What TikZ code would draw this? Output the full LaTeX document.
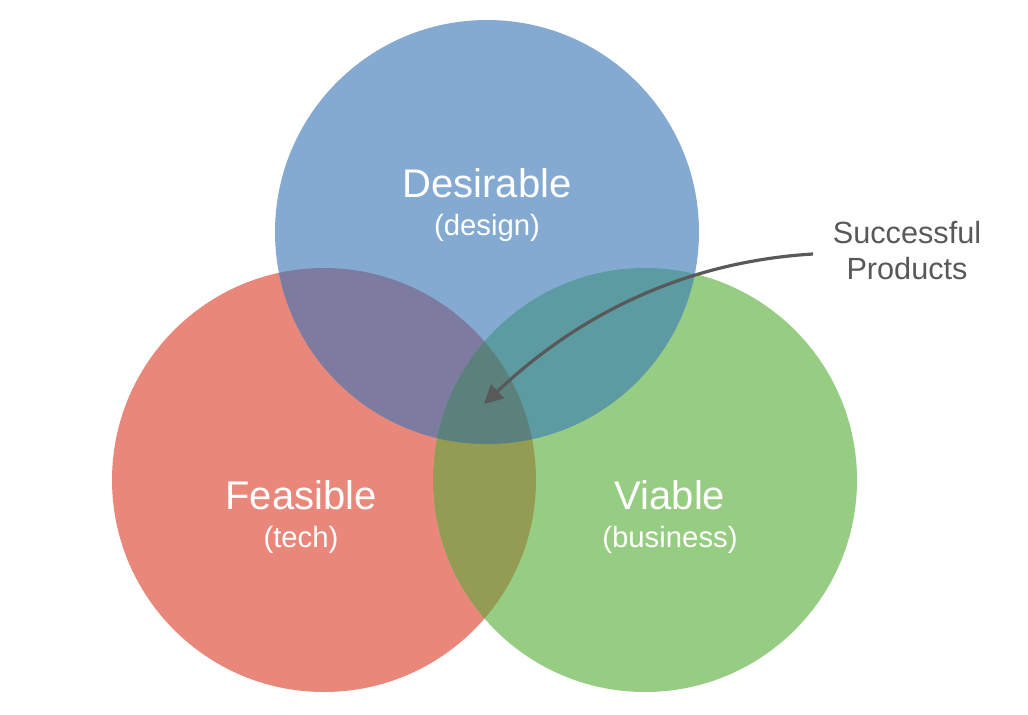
\documentclass[tikz,border=0pt]{standalone}
\usepackage{fontspec}
\setmainfont{Liberation Sans}
\usetikzlibrary{arrows.meta}
\definecolor{cBlue}{HTML}{84AAD2}
\definecolor{cRed}{HTML}{E9877B}
\definecolor{cGreen}{HTML}{97CD82}
\definecolor{cRB}{HTML}{7D7B9F}
\definecolor{cGB}{HTML}{5B9BA1}
\definecolor{cRG}{HTML}{939C52}
\definecolor{cAll}{HTML}{5C807C}
\definecolor{cInk}{HTML}{595959}
\tikzset{
  title/.style={text=white, font=\fontsize{30}{34}\selectfont, anchor=base},
  sub/.style={text=white, font=\fontsize{22}{26}\selectfont, anchor=base},
  note/.style={text=cInk, font=\fontsize{23}{27}\selectfont, anchor=base},
  pointer/.style={draw=cInk, line width=2.4pt, -{Triangle[length=14pt,width=14pt]}}
}
\begin{document}
\begin{tikzpicture}[x=0.75pt,y=-0.75pt]
\useasboundingbox (0,0) rectangle (1028,714);
% circle geometry
\def\R{212}
\coordinate (cb) at (487,232);
\coordinate (cr) at (324,480);
\coordinate (cg) at (645,480);
% base discs
\fill[cRed] (cr) circle (\R);
\fill[cGreen] (cg) circle (\R);
\fill[cBlue] (cb) circle (\R);
% pairwise overlaps
\begin{scope}
  \clip (cr) circle (\R);
  \fill[cRG] (cg) circle (\R);
  \fill[cRB] (cb) circle (\R);
\end{scope}
\begin{scope}
  \clip (cg) circle (\R);
  \fill[cGB] (cb) circle (\R);
\end{scope}
% centre
\begin{scope}
  \clip (cr) circle (\R);
  \clip (cg) circle (\R);
  \fill[cAll] (cb) circle (\R);
\end{scope}
% labels
\node[title] (des) at (487,197) {Desirable};
\node[sub] (desS) at (487,235) {(design)};
\node[title] (fea) at (301,509) {Feasible};
\node[sub] (feaS) at (301,547) {(tech)};
\node[title] (via) at (670,509) {Viable};
\node[sub] (viaS) at (670,547) {(business)};
\node[note] (succ) at (907,243) {Successful};
\node[note] (prod) at (907,279) {Products};
% pointer into the centre
\coordinate (tail) at (813,254);
\coordinate (tip) at (484,404);
\draw[pointer] (tail) .. controls (680,262) and (575,318) .. (tip);
\end{tikzpicture}
\end{document}
